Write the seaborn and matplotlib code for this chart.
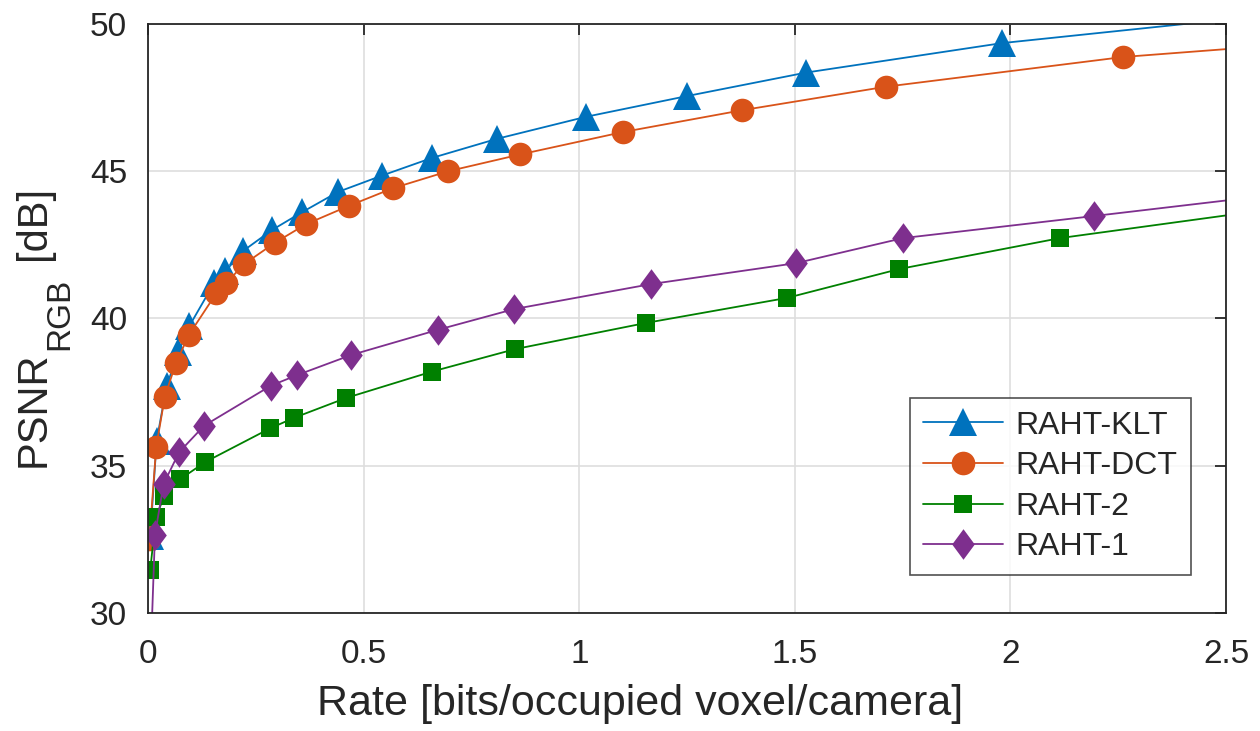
import seaborn as sns
import pandas as pd
import matplotlib.pyplot as plt

# rate [bits/occupied voxel/camera] vs PSNR_RGB [dB]
klt_rate = [0.005, 0.02, 0.043, 0.07, 0.096, 0.153, 0.179, 0.221, 0.287, 0.356, 0.441,
            0.542, 0.658, 0.809, 1.016, 1.249, 1.526, 1.98, 2.6]
klt_psnr = [32.6, 35.85, 37.7, 38.85, 39.75, 41.2, 41.6, 42.3, 43.0, 43.6, 44.3,
            44.85, 45.45, 46.1, 46.85, 47.55, 48.35, 49.35, 50.3]

dct_rate = [0.003, 0.019, 0.039, 0.065, 0.095, 0.158, 0.181, 0.223, 0.294, 0.366, 0.465,
            0.567, 0.696, 0.863, 1.101, 1.377, 1.711, 2.262, 2.95]
dct_psnr = [32.5, 35.65, 37.35, 38.5, 39.45, 40.85, 41.2, 41.85, 42.57, 43.2, 43.82,
            44.42, 45.0, 45.57, 46.33, 47.07, 47.87, 48.88, 49.65]

r2_rate = [0.005, 0.018, 0.038, 0.074, 0.133, 0.283, 0.339, 0.459, 0.659, 0.851,
           1.155, 1.482, 1.742, 2.115, 2.6]
r2_psnr = [31.45, 33.25, 33.98, 34.54, 35.13, 36.27, 36.63, 37.3, 38.2, 38.96,
           39.85, 40.7, 41.68, 42.73, 43.7]

r1_rate = [0.006, 0.016, 0.036, 0.072, 0.13, 0.285, 0.346, 0.471, 0.673, 0.849,
           1.167, 1.503, 1.751, 2.194, 2.6]
r1_psnr = [28.5, 32.65, 34.38, 35.46, 36.36, 37.72, 38.08, 38.76, 39.62, 40.32,
           41.17, 41.88, 42.73, 43.48, 44.18]

names = ['RAHT-KLT', 'RAHT-DCT', 'RAHT-2', 'RAHT-1']
colors = {'RAHT-KLT': '#0072BD', 'RAHT-DCT': '#D95319',
          'RAHT-2': '#008000', 'RAHT-1': '#7E2F8E'}
# matlab-like diamond: taller than wide
diamond = [(-0.74, 0), (0, 1), (0.74, 0), (0, -1), (-0.74, 0)]
markers = {'RAHT-KLT': '^', 'RAHT-DCT': 'o', 'RAHT-2': 's', 'RAHT-1': diamond}
msize = {'RAHT-KLT': 19.5, 'RAHT-DCT': 17, 'RAHT-2': 13, 'RAHT-1': 22}

frames = []
for n, r, p in zip(names, [klt_rate, dct_rate, r2_rate, r1_rate],
                   [klt_psnr, dct_psnr, r2_psnr, r1_psnr]):
    frames.append(pd.DataFrame({'rate': r, 'psnr': p, 'method': n}))
df = pd.concat(frames, ignore_index=True)

sns.set_style('white')
plt.rcParams['font.family'] = ['Liberation Sans', 'DejaVu Sans']

fig = plt.figure(figsize=(12.6, 7.31), dpi=100)
ax = fig.add_axes([0.1175, 0.1614, 0.8556, 0.8058])

for n in names:
    sub = df[df['method'] == n]
    sns.lineplot(data=sub, x='rate', y='psnr', ax=ax, color=colors[n],
                 marker=markers[n], markersize=msize[n], markeredgewidth=0,
                 linewidth=1.3, sort=False, estimator=None, label=n)

ax.set_xlim(0, 2.5)
ax.set_ylim(30, 50)
ax.set_xticks([0, 0.5, 1, 1.5, 2, 2.5])
ax.set_xticklabels(['0', '0.5', '1', '1.5', '2', '2.5'])
ax.set_yticks([30, 35, 40, 45, 50])
ax.grid(True, color='#dedede', linewidth=1.2)
ax.set_axisbelow(True)
for s in ax.spines.values():
    s.set_color('#262626')
    s.set_linewidth(1.3)
ax.tick_params(direction='in', length=8, width=1.3, labelsize=24,
               colors='#262626', top=True, right=True)
ax.tick_params(axis='x', pad=19)
ax.tick_params(axis='y', pad=15)

ax.set_xlabel('Rate [bits/occupied voxel/camera]', fontsize=31, color='#262626')
ax.xaxis.set_label_coords(0.456, -0.12)

# y label written in pieces so the subscript sits like the original
ax.set_ylabel('')
txt = dict(rotation=90, rotation_mode='anchor', ha='left', va='baseline', color='#262626')
fig.text(0.0357, 0.3611, 'PSNR', fontsize=30, **txt)
fig.text(0.054, 0.521, 'RGB', fontsize=24, **txt)
fig.text(0.0357, 0.6443, '[dB]', fontsize=30, **txt)

leg = ax.legend(loc='lower right', bbox_to_anchor=(0.967, 0.0645), fontsize=23,
                frameon=True, fancybox=False, edgecolor='#262626', borderaxespad=0,
                handlelength=2.5, borderpad=0.4, labelspacing=0.33, handletextpad=0.4)
leg.get_frame().set_linewidth(1.2)

plt.savefig('out.png', dpi=100)
plt.close()
